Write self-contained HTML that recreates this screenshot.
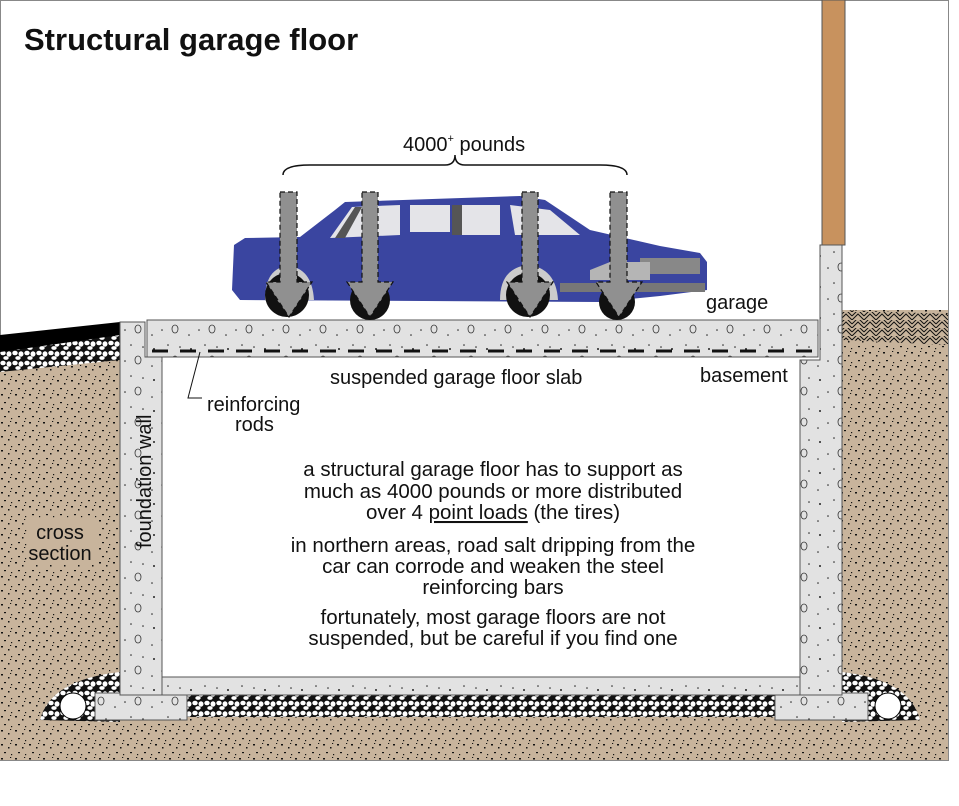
<!DOCTYPE html>
<html><head><meta charset="utf-8"><style>
html,body{margin:0;padding:0;background:#fff;width:959px;height:806px;overflow:hidden}
svg text{font-family:"Liberation Sans",Arial,sans-serif;fill:#111}
</style></head><body>
<svg width="959" height="806" viewBox="0 0 959 806" xmlns="http://www.w3.org/2000/svg">
<defs>
<pattern id="soil" width="14" height="14" patternUnits="userSpaceOnUse">
<rect width="14" height="14" fill="#c8b49c"/>
<rect x="1" y="2" width="2" height="1.5" fill="#111"/><rect x="8" y="5" width="1.5" height="1.5" fill="#111"/>
<rect x="4" y="10" width="2" height="1.2" fill="#111"/><rect x="11" y="12" width="1.2" height="1.2" fill="#111"/>
<rect x="10" y="1" width="1.2" height="1" fill="#111"/>
</pattern>
<pattern id="conc" width="37" height="31" patternUnits="userSpaceOnUse">
<rect width="37" height="31" fill="#e2e2e2"/>
<circle cx="6" cy="8" r="1" fill="#222"/><circle cx="20" cy="4" r="0.8" fill="#222"/><circle cx="14" cy="20" r="0.8" fill="#222"/>
<ellipse cx="27" cy="19" rx="3" ry="4" fill="none" stroke="#333" stroke-width="0.8"/><circle cx="4" cy="25" r="0.8" fill="#222"/><circle cx="32" cy="6" r="0.8" fill="#222"/>
</pattern>
<pattern id="grav" width="12" height="10" patternUnits="userSpaceOnUse">
<rect width="12" height="10" fill="#111"/>
<ellipse cx="3" cy="3" rx="2.7" ry="2.3" fill="#fff"/><ellipse cx="9" cy="4" rx="2.5" ry="2.7" fill="#fff"/><ellipse cx="6" cy="8" rx="2.7" ry="1.9" fill="#fff"/>
</pattern>
<pattern id="hatch" width="12" height="8" patternUnits="userSpaceOnUse">
<rect width="12" height="8" fill="#c8b49c"/>
<path d="M0 8 L6 2 L12 8 M0 4 L6 -2 L12 4" stroke="#111" stroke-width="1" fill="none"/>
</pattern>
</defs>
<rect x="0.5" y="0.5" width="948" height="760" fill="#fff" stroke="#888"/>
<polygon points="0,345 120,333 120,760 0,760" fill="url(#soil)"/>
<polygon points="0,338 120,323 120,360 0,372" fill="url(#grav)"/>
<polygon points="0,335 120,322 120,335 0,352" fill="#000"/>
<rect x="842" y="310" width="106" height="450" fill="url(#soil)"/>
<polygon points="842,310 948,314 948,345 842,340" fill="url(#hatch)"/>
<rect x="0" y="690" width="948" height="70" fill="url(#soil)"/>
<path d="M40,720 Q50,680 120,672 L120,722 Z" fill="url(#grav)"/>
<path d="M920,720 Q910,680 842,672 L842,722 Z" fill="url(#grav)"/>
<rect x="185" y="693" width="592" height="24" fill="url(#grav)"/>
<circle cx="73" cy="706" r="13" fill="#fff" stroke="#000"/>
<circle cx="888" cy="706" r="13" fill="#fff" stroke="#000"/>
<rect x="95" y="693" width="92" height="27" fill="url(#conc)" stroke="#555"/>
<rect x="775" y="693" width="93" height="27" fill="url(#conc)" stroke="#555"/>
<polygon points="120,322 145,322 145,357 162,357 162,695 120,695" fill="url(#conc)" stroke="#555"/>
<polygon points="820,245 842,245 842,695 800,695 800,360 820,360" fill="url(#conc)" stroke="#555"/>
<rect x="162" y="677" width="638" height="18" fill="url(#conc)" stroke="#555"/>
<rect x="822" y="0" width="23" height="245" fill="#c8925e" stroke="#555"/>
<rect x="147" y="320" width="671" height="37" fill="url(#conc)" stroke="#555"/>
<line x1="152" y1="351" x2="815" y2="351" stroke="#111" stroke-width="3" stroke-dasharray="16,12"/>
<path d="M234,245 L245,238 L300,237 L335,210 L345,202 L520,196 L545,200 L590,230 L660,246 L700,253 L707,262 L707,290 L660,296 L600,302 L240,300 L232,290 Z" fill="#3a45a0"/>
<path d="M330,238 L352,207 L400,205 L400,235 Z M410,205 L450,205 L450,232 L410,232 Z M460,205 L500,205 L500,235 L460,235 Z M510,205 L550,210 L580,235 L515,235 Z" fill="#e4e4e8"/>
<path d="M335,238 L355,207 L362,207 L345,238 Z M452,205 L462,205 L462,235 L452,235 Z" fill="#555"/>
<path d="M265,300 Q265,268 288,266 Q312,268 314,300 Z M500,300 Q500,268 528,265 Q556,268 558,300 Z" fill="#ccc"/>
<rect x="640" y="258" width="60" height="16" fill="#888"/>
<polygon points="590,270 610,262 650,262 650,280 590,280" fill="#b5b5b5"/>
<rect x="560" y="283" width="145" height="9" fill="#777"/>
<g fill="#111"><circle cx="287" cy="295" r="22"/><circle cx="370" cy="300" r="20"/><circle cx="528" cy="295" r="22"/><circle cx="617" cy="302" r="18"/></g>
<g fill="#999"><circle cx="287" cy="295" r="11"/><circle cx="528" cy="295" r="11"/></g>
<g fill="#909090" stroke="#111" stroke-dasharray="5,3" stroke-width="1.2">
<path d="M280,192 h17 v90 h15 l-23,35 l-23,-35 h14 z"/>
<path d="M362,192 h16 v90 h15 l-23,35 l-23,-35 h15 z"/>
<path d="M522,192 h16 v90 h15 l-23,35 l-23,-35 h15 z"/>
<path d="M610,192 h17 v90 h15 l-23,35 l-23,-35 h14 z"/>
</g>
<path d="M283,175 Q283,165 310,165 L445,165 Q455,165 455,155 Q455,165 465,165 L600,165 Q627,165 627,175" fill="none" stroke="#111" stroke-width="1.5"/>
<polyline points="200,352 188,398 202,398" fill="none" stroke="#111"/>
<text x="24" y="50" font-size="31" font-weight="bold">Structural garage floor</text>
<text x="403" y="151" font-size="20">4000<tspan font-size="11" dy="-9">+</tspan><tspan dy="9"> pounds</tspan></text>
<text x="706" y="309" font-size="20">garage</text>
<text x="700" y="382" font-size="20">basement</text>
<text x="330" y="384" font-size="20">suspended garage floor slab</text>
<text x="207" y="411" font-size="20">reinforcing</text>
<text x="235" y="431" font-size="20">rods</text>
<text transform="translate(151,548) rotate(-90)" font-size="20">foundation wall</text>
<rect x="28" y="518" width="70" height="46" fill="#c8b49c"/>
<text x="60" y="539" font-size="20" text-anchor="middle">cross</text>
<text x="60" y="560" font-size="20" text-anchor="middle">section</text>
<g font-size="20.5" text-anchor="middle">
<text x="493" y="476">a structural garage floor has to support as</text>
<text x="493" y="498">much as 4000 pounds or more distributed</text>
<text x="493" y="519">over 4 <tspan text-decoration="underline">point loads</tspan> (the tires)</text>
<text x="493" y="552">in northern areas, road salt dripping from the</text>
<text x="493" y="573">car can corrode and weaken the steel</text>
<text x="493" y="594">reinforcing bars</text>
<text x="493" y="624">fortunately, most garage floors are not</text>
<text x="493" y="645">suspended, but be careful if you find one</text>
</g>
</svg>
</body></html>
